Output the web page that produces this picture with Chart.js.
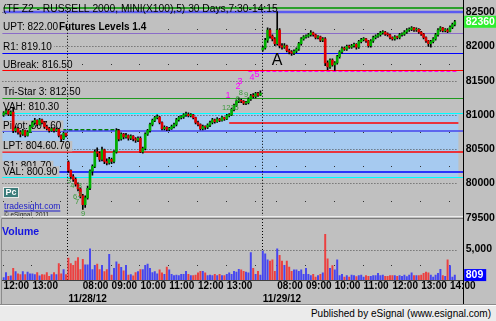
<!DOCTYPE html>
<html>
<head>
<meta charset="utf-8">
<script src="https://cdn.jsdelivr.net/npm/chart.js@4.4.1/dist/chart.umd.min.js"></script>
<style>
  html, body { margin: 0; padding: 0; }
  body { width: 496px; height: 321px; background: #c0c0c0; position: relative; overflow: hidden;
         font-family: "Liberation Sans", Arial, sans-serif; }
  #priceChart { position: absolute; left: 0; top: 0; }
  #volumeChart { position: absolute; left: 0; top: 219px; }
  #footer { position: absolute; left: 0; top: 304px; width: 496px; height: 16px; background: #ebebeb;
            border-top: 1px solid #8a8a8a; box-shadow: inset 0 1px 0 #ffffff; }
  #footer span { position: absolute; right: 5px; top: 3px; font-size: 10px; line-height: 12px; color: #000; }
</style>
</head>
<body>
<canvas id="priceChart" width="496" height="226"></canvas>
<canvas id="volumeChart" width="496" height="88"></canvas>
<div id="footer"><span>Published by eSignal (www.esignal.com)</span></div>
<script>
// 5 minute bars, [open, high, low, close]
const day0Bars = [
  [810.0,810.5,809.8,810.3],[810.3,810.9,810.1,810.6],[810.6,810.8,809.9,810.1],[810.1,810.6,809.9,810.4],
  [810.4,811.0,807.4,807.7],[807.7,808.3,807.5,808.0],[808.0,808.2,807.2,807.5],[807.5,807.7,806.8,807.2],
  [807.2,807.9,807.0,807.7],[807.7,807.8,806.8,807.0],[807.0,807.7,806.9,807.5],[807.5,808.5,807.4,808.3],
  [808.3,809.1,808.2,808.9],[808.9,809.5,808.7,809.2],[809.2,809.3,808.4,808.6],[808.6,809.5,808.5,809.3],
  [809.3,809.4,808.7,808.9],[808.9,809.0,808.1,808.3],[808.3,808.5,807.8,808.0],[808.0,808.2,807.5,807.7],
  [807.7,808.2,807.6,808.0],[808.0,808.1,807.5,807.7],[807.7,808.1,807.6,807.9],[807.9,808.0,806.8,807.0],
  [807.0,807.1,806.1,806.5],[806.5,807.5,806.4,807.3],[807.3,807.4,806.8,807.0]
];
const day1Bars = [
  [803.1,803.3,801.6,801.9],[801.9,802.0,800.7,801.0],[801.0,801.3,800.3,800.6],[800.6,800.8,799.6,799.9],
  [799.9,800.1,798.9,799.2],[799.2,799.4,797.9,798.2],[798.2,798.4,796.2,796.9],[796.9,798.2,796.5,797.9],
  [797.9,799.6,797.7,799.3],[799.3,802.0,799.1,801.8],[801.8,802.7,801.2,802.5],[802.5,804.9,802.3,804.6],
  [804.6,805.2,803.9,804.4],[804.4,804.6,803.2,803.5],[803.5,805.3,803.3,804.9],[804.9,805.0,802.9,803.2],
  [803.2,803.6,802.7,803.0],[803.0,803.8,802.8,803.5],[803.5,803.7,802.9,803.2],[803.2,804.8,803.0,804.6],
  [804.6,808.0,804.4,807.7],[807.7,807.9,806.2,806.5],[806.5,807.4,806.3,807.2],[807.2,807.3,806.5,806.8],
  [806.8,807.3,806.6,807.0],[807.0,807.1,806.3,806.6],[806.6,807.1,806.4,806.9],[806.9,807.0,806.2,806.5],
  [806.5,806.7,806.0,806.3],[806.3,806.8,806.1,806.6],[806.6,806.8,804.5,804.6],[804.6,805.3,804.4,805.1],
  [805.1,807.4,804.9,807.2],[807.2,807.9,807.0,807.7],[807.7,808.8,807.5,808.6],[808.6,809.4,808.4,809.2],
  [809.2,809.8,809.0,809.6],[809.6,810.0,809.4,809.7],[809.7,809.8,808.7,808.9],[808.9,809.0,807.8,808.0],
  [808.0,808.4,807.8,808.2],[808.2,808.3,807.7,807.9],[807.9,808.2,807.7,808.0],[808.0,808.5,807.9,808.3],
  [808.3,808.8,808.1,808.6],[808.6,809.5,808.4,809.3],[809.3,809.8,809.1,809.6],[809.6,809.9,809.4,809.7],
  [809.7,810.2,809.5,810.0],[810.0,810.4,809.8,810.1],[810.1,810.3,809.7,809.9],[809.9,810.2,809.7,810.0],
  [810.0,810.1,809.4,809.6],[809.6,809.7,808.7,808.9],[808.9,809.1,808.4,808.6],[808.6,808.7,807.8,808.0],
  [808.0,808.5,807.8,808.3],[808.3,808.4,807.9,808.2],[808.2,808.7,808.0,808.5],[808.5,809.1,808.3,808.9],
  [808.9,809.5,808.7,809.3],[809.3,809.4,808.8,809.0],[809.0,809.6,808.9,809.4],[809.4,809.5,809.0,809.2],
  [809.2,809.8,809.1,809.6],[809.6,809.7,809.2,809.4],[809.4,810.1,809.3,809.9],[809.9,810.2,809.7,810.0],
  [810.0,811.0,809.9,810.8],[810.8,811.6,810.6,811.4],[811.4,812.2,811.2,812.0],[812.0,812.5,811.8,812.1],
  [812.1,812.3,811.8,812.0],[812.0,812.1,811.5,811.7],[811.7,812.0,811.5,811.8],[811.8,812.5,811.6,812.3],
  [812.3,813.0,812.1,812.8],[812.8,813.1,812.5,812.7],[812.7,813.3,812.5,813.1],[813.1,813.3,812.7,812.9],
  [812.9,813.5,812.8,813.2]
];
const day2Bars = [
  [819.5,820.0,819.3,819.8],[819.8,821.2,819.6,820.9],[820.9,822.7,820.6,822.4],[822.4,822.6,821.2,821.5],
  [821.5,821.7,820.8,821.1],[821.1,821.3,820.1,820.4],[820.4,825.1,820.2,822.4],[822.4,822.6,819.8,820.1],
  [820.1,820.4,819.6,819.9],[819.9,820.4,819.7,820.1],[820.1,820.2,819.2,819.4],[819.4,819.6,818.9,819.2],
  [819.2,819.4,818.7,819.0],[819.0,819.5,818.8,819.3],[819.3,819.8,819.1,819.6],[819.6,820.6,819.4,820.4],
  [820.4,821.3,820.2,821.1],[821.1,821.6,820.9,821.4],[821.4,821.7,821.2,821.5],[821.5,821.9,821.3,821.7],
  [821.7,822.3,821.5,822.0],[822.0,822.1,821.5,821.7],[821.7,821.8,821.1,821.3],[821.3,821.6,821.1,821.4],
  [821.4,821.5,820.7,820.9],[820.9,821.3,820.7,821.1],[821.1,821.3,817.2,817.6],[817.6,817.9,816.6,817.0],
  [817.0,818.2,816.8,818.0],[818.0,818.2,817.1,817.3],[817.3,817.8,816.5,817.6],[817.6,818.7,817.4,818.5],
  [818.5,819.4,818.3,819.2],[819.2,819.9,819.0,819.7],[819.7,819.9,819.4,819.6],[819.6,820.2,819.4,820.0],
  [820.0,820.2,819.7,819.9],[819.9,820.3,819.7,820.1],[820.1,820.5,819.9,820.3],[820.3,820.4,819.6,819.9],
  [819.9,820.9,819.7,820.7],[820.7,821.2,820.5,821.0],[821.0,821.3,820.8,821.1],[821.1,821.2,820.6,820.8],
  [820.8,820.9,819.9,820.1],[820.1,821.0,819.9,820.8],[820.8,821.5,820.6,821.3],[821.3,821.7,821.1,821.5],
  [821.5,821.9,821.3,821.7],[821.7,822.2,821.5,822.0],[822.0,822.3,821.8,822.1],[822.1,822.2,821.6,821.8],
  [821.8,822.0,821.5,821.7],[821.7,821.8,821.1,821.3],[821.3,821.4,820.9,821.1],[821.1,821.6,820.9,821.4],
  [821.4,821.5,821.1,821.3],[821.3,821.9,821.1,821.7],[821.7,822.0,821.5,821.8],[821.8,822.3,821.6,822.1],
  [822.1,822.6,821.9,822.4],[822.4,822.7,822.2,822.5],[822.5,822.9,822.3,822.7],[822.7,822.8,822.2,822.4],
  [822.4,822.7,822.2,822.5],[822.5,822.6,821.9,822.1],[822.1,822.2,821.6,821.8],[821.8,821.9,821.1,821.3],
  [821.3,821.4,820.6,820.8],[820.8,820.9,820.0,820.4],[820.4,820.9,819.9,820.7],[820.7,821.3,820.5,821.1],
  [821.1,821.9,820.9,821.7],[821.7,822.6,821.5,822.4],[822.4,822.9,822.2,822.7],[822.7,822.8,822.1,822.3],
  [822.3,822.6,822.1,822.4],[822.4,822.6,822.0,822.2],[822.2,823.0,822.1,822.8],[822.8,823.4,822.6,823.2],
  [823.2,823.8,823.0,823.6]
];

const day0Volume = [400,1200,600,700,1900,1400,1000,900,1400,900,1300,1000,1000,900,1200,700,900,850,1200,600,
  900,1200,900,2700,1000,1700,900];
const day1Volume = [3600,2700,2400,3100,3700,1700,3400,2500,2500,5100,1700,2400,2600,1700,2400,1400,1700,4200,800,1900,
  3000,2600,2100,1500,2400,800,900,700,1200,1400,1700,1700,2400,2600,1900,1200,1400,1000,
  1670,1190,950,2140,1670,950,710,810,710,950,950,1430,950,710,710,810,1190,1430,1430,1190,710,810,
  710,950,710,950,710,710,950,1190,950,1430,1290,1760,1670,1430,1290,1190,4500,1900,950,1430,800];
const day2Volume = [4760,4300,3300,3100,3300,1430,5100,4050,3100,2400,3100,2140,1430,1670,1670,1430,1670,950,1900,950,
  710,950,470,710,950,1190,7500,3480,1900,2380,1670,3330,710,950,470,710,470,810,710,570,
  710,810,470,710,620,620,710,710,1100,710,810,620,620,710,710,710,620,710,620,810,
  570,810,1190,710,710,710,810,1100,1290,1190,810,470,810,1100,1760,710,620,3330,2380,470,809];

const sessionDates = ['11/27/12', '11/28/12', '11/29/12'];
const sessionStarts = ['12:00', '07:30', '07:30'];
const hourLabels = [
  ['12:00', '13:00'],
  ['08:00', '09:00', '10:00', '11:00', '12:00', '13:00'],
  ['08:00', '09:00', '10:00', '11:00', '12:00', '13:00', '14:00']
];
const priceTicks = [825, 820, 815, 810, 805, 800, 795];
const volumeTicks = [5000];

const levelText = ['UPT: 822.00', 'R1: 819.10', 'UBreak: 816.50', 'Tri-Star 3: 812.50', 'VAH: 810.30',
  'Pivot: 807.60', 'LPT: 804.60.70', 'S1: 801.70', 'VAL: 800.90'];
const levelValues = [822.00, 819.10, 816.50, 812.50, 810.30, 807.60, 804.60, 801.70, 800.90];
const otherLevels = [825.6, 825.07, 808.77, 816.35, 807.75];

const tdGreenText = ['3', '4', '3', '6', '3', '7', '9', '1235', '6', '8', '9'];
const tdGreenBar = [27.3, 28.6, 31.8, 29.8, 31.8, 30.6, 33.1, 94.5, 97.5, 98.8, 101];
const tdGreenPrice = [800.4, 799.7, 799.7, 798.0, 798.3, 797.3, 795.5, 811.0, 812.3, 813.2, 812.9];
const tdPinkText = ['1', '2', '3', '4', '5'];
const tdPinkBar = [93.5, 97.7, 98.5, 103.5, 105.6];
const tdPinkPrice = [812.8, 814.1, 814.9, 815.5, 815.9];

// ---- styles ----
const FONT = '"Liberation Sans", Arial, sans-serif';
Chart.defaults.font.family = FONT;
const levelStyles = [
  { color: '#8a6cc8', w: 1 }, { color: '#0000ff', w: 1 }, { color: '#ff0000', w: 1 },
  { color: '#1e9a1e', w: 1 }, { color: '#00ffff', w: 1 }, { color: '#4444ee', w: 1.5 },
  { color: '#ff0000', w: 1.5 }, { color: '#0000ff', w: 1.5 }, { color: '#00ffff', w: 1 }
];
const otherStyles = [
  { color: '#2ca02c', w: 2, from: 0, to: 191.5 },
  { color: '#5a5af0', w: 2.5, from: 0, to: 191.5 },
  { color: '#ff0000', w: 1.5, from: 94, to: 189.5 },
  { color: '#ff00ff', w: 2, from: 102, to: 189.5, dash: [4, 2] },
  { color: '#008000', w: 2, from: 24.5, to: 48, dash: [4, 2] }
];

// ---- build bars / labels ----
const sessions = [day0Bars, day1Bars, day2Bars];
const allBars = [].concat(day0Bars, day1Bars, day2Bars);
const volumes = [].concat(day0Volume, day1Volume, day2Volume);
const labels = [];
const hourIdx = [];
const dayStarts = [];
sessions.forEach((bars, d) => {
  const [h, m] = sessionStarts[d].split(':').map(Number);
  bars.forEach((b, i) => {
    const t = h * 60 + m + 5 * i;
    const s = String(Math.floor(t / 60)).padStart(2, '0') + ':' + String(t % 60).padStart(2, '0');
    if (t % 60 === 0) hourIdx.push(labels.length);
    const top = hourLabels[d].includes(s) ? s : '';
    if (i === 0 && d > 0) { dayStarts.push(labels.length); labels.push([top, sessionDates[d]]); }
    else labels.push(top);
  });
});
while (labels.length < 192) labels.push('');

const bodies = allBars.map(b => [b[0], b[3]]);
const wicks = allBars.map(b => [b[2], b[1]]);
const bodyColors = allBars.map(b => b[3] >= b[0] ? '#00b000' : '#e00000');
const volColors = allBars.map(b => b[3] >= b[0] ? '#4646f0' : '#ec4040');

function hline(ctx, y, x0, x1, color, w, dash) {
  ctx.beginPath();
  ctx.setLineDash(dash || []);
  ctx.strokeStyle = color;
  ctx.lineWidth = w;
  const yy = w % 2 === 1 ? Math.round(y) + 0.5 : Math.round(y);
  ctx.moveTo(x0, yy); ctx.lineTo(x1, yy); ctx.stroke();
  ctx.setLineDash([]);
}
function vline(ctx, x, y0, y1) {
  ctx.beginPath();
  ctx.setLineDash([1, 2]);
  ctx.strokeStyle = '#000';
  ctx.lineWidth = 1;
  ctx.moveTo(Math.round(x) + 0.5, y0); ctx.lineTo(Math.round(x) + 0.5, y1); ctx.stroke();
  ctx.setLineDash([]);
}

const pricePanel = {
  id: 'pricePanel',
  beforeDatasetsDraw(chart) {
    const { ctx, chartArea: a, scales: { x, y } } = chart;
    const gridRight = x.getPixelForValue(189.5);
    ctx.save();
    // value area
    const top = y.getPixelForValue(levelValues[4]), bot = y.getPixelForValue(levelValues[8]);
    ctx.fillStyle = '#a6caf0';
    ctx.fillRect(a.left, top, gridRight - a.left, bot - top);
    // dotted grid
    priceTicks.forEach(v => hline(ctx, y.getPixelForValue(v), a.left, gridRight, '#505050', 1, [1, 2]));
    ctx.fillStyle = '#303030';
    priceTicks.forEach(v => {
      const py = Math.round(y.getPixelForValue(v - 2.5));
      hourIdx.forEach(i => ctx.fillRect(Math.round(x.getPixelForValue(i)) - 1, py, 1, 1));
    });
    // other lines
    otherLevels.forEach((v, i) => {
      const s = otherStyles[i];
      hline(ctx, y.getPixelForValue(v), x.getPixelForValue(s.from), Math.min(a.right, x.getPixelForValue(s.to)), s.color, s.w, s.dash);
    });
    levelValues.forEach((v, i) => hline(ctx, y.getPixelForValue(v), a.left, a.right, levelStyles[i].color, levelStyles[i].w));
    // level labels
    ctx.font = '10px ' + FONT;
    ctx.textBaseline = 'middle';
    levelText.forEach((t, i) => {
      const ly = y.getPixelForValue(levelValues[i]) - 5.5;
      const w = ctx.measureText(t).width;
      ctx.fillStyle = '#c0c0c0';
      ctx.fillRect(2, ly - 5.5, w + 3, 10.5);
      ctx.fillStyle = '#000';
      ctx.fillText(t, 3, ly);
    });
    ctx.font = 'bold 10px ' + FONT;
    ctx.fillText('Futures Levels 1.4', 59, y.getPixelForValue(levelValues[0]) - 5.5);
    ctx.font = '10.25px ' + FONT;
    ctx.fillText('(TF Z2 - RUSSELL 2000, MINI(X100),5) 30 Days,7:30-14:15', 3, 9);
    // session separators
    dayStarts.forEach(i => vline(ctx, x.getPixelForValue(i) - 1.2, a.top, a.bottom));
    // Pc badge, site, copyright
    ctx.fillStyle = '#3c7c7a';
    ctx.fillRect(3, 187, 16, 11);
    ctx.strokeStyle = '#e8e8e8'; ctx.lineWidth = 1;
    ctx.strokeRect(3.5, 187.5, 15, 10);
    ctx.fillStyle = '#fff';
    ctx.font = 'bold 9px ' + FONT;
    ctx.textAlign = 'center';
    ctx.fillText('Pc', 11, 192.5);
    ctx.textAlign = 'left';
    ctx.fillStyle = '#1a1ac8';
    ctx.font = '8.6px ' + FONT;
    ctx.fillText('tradesight.com', 4, 206.5);
    ctx.fillRect(4, 210.5, ctx.measureText('tradesight.com').width, 1);
    ctx.fillStyle = '#222';
    ctx.font = '6.4px ' + FONT;
    ctx.fillText('\u00a9 eSignal, 2011', 4, 215.5);
    ctx.restore();
  },
  afterDatasetsDraw(chart) {
    const { ctx, chartArea: a, scales: { x, y } } = chart;
    ctx.save();
    ctx.textAlign = 'center';
    ctx.textBaseline = 'middle';
    ctx.font = '7.5px ' + FONT;
    ctx.fillStyle = '#3a9a3a';
    tdGreenText.forEach((t, i) => ctx.fillText(t, x.getPixelForValue(tdGreenBar[i]), y.getPixelForValue(tdGreenPrice[i])));
    ctx.font = '9px ' + FONT;
    ctx.fillStyle = '#ff00ff';
    tdPinkText.forEach((t, i) => ctx.fillText(t, x.getPixelForValue(tdPinkBar[i]), y.getPixelForValue(tdPinkPrice[i])));
    ctx.font = '16px ' + FONT;
    ctx.fillStyle = '#000';
    ctx.fillText('A', x.getPixelForValue(114), y.getPixelForValue(817.9));
    // panel border + separator
    hline(ctx, 216, a.left - 1, a.right, '#ececec', 1);
    hline(ctx, 218, a.left - 1, a.right, '#7a7a7a', 1);
    ctx.fillStyle = '#000';
    ctx.fillRect(Math.round(a.right), 0, 1, 226);
    // last price box
    const last = allBars[allBars.length - 1][3];
    const ly = y.getPixelForValue(last);
    ctx.fillStyle = '#2fee2f';
    ctx.fillRect(a.right + 1, ly - 6, 496 - a.right, 12);
    ctx.fillStyle = '#fff';
    ctx.textAlign = 'left';
    ctx.font = 'bold 10.5px ' + FONT;
    ctx.fillText(String(Math.round(last * 100)), a.right + 2.5, ly);
    ctx.restore();
  }
};

const volumePanel = {
  id: 'volumePanel',
  beforeDatasetsDraw(chart) {
    const { ctx, chartArea: a, scales: { x, y } } = chart;
    const gridRight = x.getPixelForValue(189.5);
    ctx.save();
    volumeTicks.forEach(v => hline(ctx, y.getPixelForValue(v), a.left, gridRight, '#505050', 1, [1, 2]));
    ctx.fillStyle = '#303030';
    volumeTicks.forEach(v => {
      const py = Math.round(y.getPixelForValue(v / 2));
      hourIdx.forEach(i => ctx.fillRect(Math.round(x.getPixelForValue(i)) - 1, py, 1, 1));
    });
    dayStarts.forEach(i => vline(ctx, x.getPixelForValue(i) - 1.2, 0, a.bottom));
    ctx.fillStyle = '#1414e0';
    ctx.font = 'bold 10.5px ' + FONT;
    ctx.textBaseline = 'middle';
    ctx.fillText('Volume', 2, 13);
    ctx.restore();
  },
  afterDatasetsDraw(chart) {
    const { ctx, chartArea: a, scales: { y } } = chart;
    ctx.save();
    ctx.fillStyle = '#404040';
    ctx.fillRect(a.left - 1, Math.round(a.bottom), a.right - a.left + 1, 1);
    ctx.fillStyle = '#8a8a8a';
    ctx.fillRect(1, 0, 1, 85);
    ctx.fillStyle = '#000';
    ctx.fillRect(Math.round(a.right), 0, 1, 85);
    const last = volumes[volumes.length - 1];
    const ly = y.getPixelForValue(last);
    ctx.fillStyle = '#0000ff';
    ctx.fillRect(a.right + 1, ly - 6, 22, 12);
    ctx.fillStyle = '#fff';
    ctx.font = 'bold 10.5px ' + FONT;
    ctx.textBaseline = 'middle';
    ctx.fillText(String(last), a.right + 2.5, ly);
    ctx.restore();
  }
};

new Chart(document.getElementById('priceChart'), {
  type: 'bar',
  data: {
    labels: labels,
    datasets: [
      { data: bodies, backgroundColor: bodyColors, barThickness: 2, minBarLength: 1, grouped: false, order: 0 },
      { data: wicks, backgroundColor: '#000', barThickness: 1, grouped: false, order: 1 }
    ]
  },
  options: {
    responsive: false, animation: false, events: [],
    layout: { padding: { left: 2.4, top: 2, right: 0, bottom: 8 } },
    plugins: { legend: { display: false }, tooltip: { enabled: false } },
    scales: {
      x: { display: false, offset: true },
      y: {
        position: 'right', min: 795.07, max: 825.493,
        afterFit: s => { s.width = 32.8; },
        afterBuildTicks: s => { s.ticks = priceTicks.map(v => ({ value: v })); },
        grid: { display: false, drawTicks: false }, border: { display: false },
        ticks: { padding: 2.5, color: '#000', autoSkip: false, font: { size: 10.5, weight: 'bold' },
                 callback: v => String(Math.round(v * 100)) }
      }
    }
  },
  plugins: [pricePanel]
});

new Chart(document.getElementById('volumeChart'), {
  type: 'bar',
  data: {
    labels: labels,
    datasets: [{ data: volumes, backgroundColor: volColors, barThickness: 1.3, grouped: false }]
  },
  options: {
    responsive: false, animation: false, events: [],
    layout: { padding: { left: 2.4, top: 1, right: 0, bottom: 0 } },
    plugins: { legend: { display: false }, tooltip: { enabled: false } },
    scales: {
      x: {
        offset: true,
        afterFit: s => { s.height = 27; },
        grid: { display: false, drawTicks: false }, border: { display: false },
        ticks: { autoSkip: false, maxRotation: 0, minRotation: 0, align: 'start', padding: 0, color: '#000',
                 font: { size: 10, weight: 'bold', lineHeight: 1.3 } }
      },
      y: {
        position: 'right', min: 0, max: 8571.4,
        afterFit: s => { s.width = 32.8; },
        afterBuildTicks: s => { s.ticks = volumeTicks.map(v => ({ value: v })); },
        grid: { display: false, drawTicks: false }, border: { display: false },
        ticks: { padding: 2.5, color: '#000', font: { size: 10.5, weight: 'bold' },
                 callback: v => v.toLocaleString('en-US') }
      }
    }
  },
  plugins: [volumePanel]
});
</script>
</body>
</html>
